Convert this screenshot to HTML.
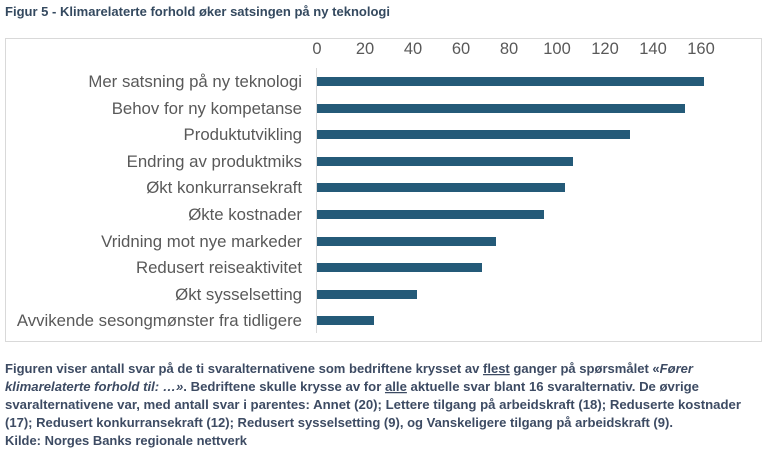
<!DOCTYPE html>
<html><head><meta charset="utf-8"><style>
html,body{margin:0;padding:0;background:#fff;}
svg{display:block;}
</style></head><body>
<svg width="768" height="457" viewBox="0 0 768 457" xmlns="http://www.w3.org/2000/svg">
<text x="5" y="16" font-family="Liberation Sans, sans-serif" font-weight="bold" font-size="12.5" fill="#34495f" textLength="385" lengthAdjust="spacingAndGlyphs">Figur 5 - Klimarelaterte forhold øker satsingen på ny teknologi</text>
<rect x="5.5" y="38.5" width="756" height="303" fill="#fff" stroke="#d9d9d9" stroke-width="1"/>
<g font-family="Liberation Sans, sans-serif" font-size="16.5" fill="#595959" text-anchor="middle">
<text x="317" y="54">0</text><text x="365" y="54">20</text><text x="413" y="54">40</text><text x="461" y="54">60</text><text x="509" y="54">80</text><text x="557" y="54">100</text><text x="605" y="54">120</text><text x="653" y="54">140</text><text x="701" y="54">160</text>
</g>
<line x1="316.5" y1="68" x2="316.5" y2="333" stroke="#d9d9d9" stroke-width="1"/>
<g fill="#245a78">
<rect x="317" y="77" width="387" height="9"/>
<rect x="317" y="104" width="368" height="9"/>
<rect x="317" y="130" width="313" height="9"/>
<rect x="317" y="157" width="256" height="9"/>
<rect x="317" y="183" width="248" height="9"/>
<rect x="317" y="210" width="227" height="9"/>
<rect x="317" y="237" width="179" height="9"/>
<rect x="317" y="263" width="165" height="9"/>
<rect x="317" y="290" width="100" height="9"/>
<rect x="317" y="316" width="57" height="9"/>
</g>
<g font-family="Liberation Sans, sans-serif" font-size="16.8" fill="#595959" text-anchor="end">
<text x="302" y="87">Mer satsning på ny teknologi</text>
<text x="302" y="114">Behov for ny kompetanse</text>
<text x="302" y="140">Produktutvikling</text>
<text x="302" y="167">Endring av produktmiks</text>
<text x="302" y="193">Økt konkurransekraft</text>
<text x="302" y="220">Økte kostnader</text>
<text x="302" y="247">Vridning mot nye markeder</text>
<text x="302" y="273">Redusert reiseaktivitet</text>
<text x="302" y="300">Økt sysselsetting</text>
<text x="302" y="326">Avvikende sesongmønster fra tidligere</text>
</g>
<g font-family="Liberation Sans, sans-serif" font-weight="bold" font-size="12.5" fill="#3d4b63">
<text x="5" y="373" textLength="688" lengthAdjust="spacingAndGlyphs">Figuren viser antall svar på de ti svaralternativene som bedriftene krysset av <tspan text-decoration="underline">flest</tspan> ganger på spørsmålet «<tspan font-style="italic">Fører</tspan></text>
<text x="5" y="391" textLength="694" lengthAdjust="spacingAndGlyphs"><tspan font-style="italic">klimarelaterte forhold til: …»</tspan>. Bedriftene skulle krysse av for <tspan text-decoration="underline">alle</tspan> aktuelle svar blant 16 svaralternativ. De øvrige</text>
<text x="5" y="409" textLength="736" lengthAdjust="spacingAndGlyphs">svaralternativene var, med antall svar i parentes: Annet (20); Lettere tilgang på arbeidskraft (18); Reduserte kostnader</text>
<text x="5" y="427" textLength="668" lengthAdjust="spacingAndGlyphs">(17); Redusert konkurransekraft (12); Redusert sysselsetting (9), og Vanskeligere tilgang på arbeidskraft (9).</text>
<text x="5" y="445" textLength="242" lengthAdjust="spacingAndGlyphs">Kilde: Norges Banks regionale nettverk</text>
</g>
</svg>
</body></html>
